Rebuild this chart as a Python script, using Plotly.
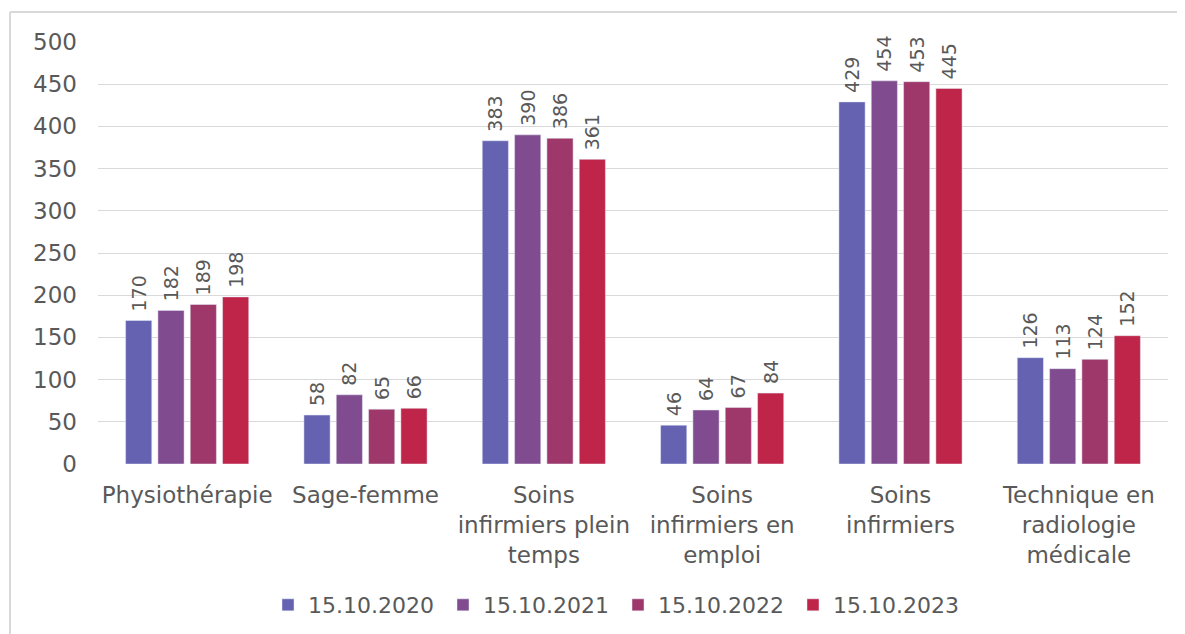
import plotly.graph_objects as go

categories = ["Physiothérapie", "Sage-femme", "Soins<br>infirmiers plein<br>temps",
              "Soins<br>infirmiers en<br>emploi", "Soins<br>infirmiers",
              "Technique en<br>radiologie<br>médicale"]
series_names = ["15.10.2020", "15.10.2021", "15.10.2022", "15.10.2023"]
v2020 = [170, 58, 383, 46, 429, 126]
v2021 = [182, 82, 390, 64, 454, 113]
v2022 = [189, 65, 386, 67, 453, 124]
v2023 = [198, 66, 361, 84, 445, 152]
values = [v2020, v2021, v2022, v2023]
colors = ["#6562B2", "#804C8F", "#9E386B", "#BE2549"]
y_ticks = [0, 50, 100, 150, 200, 250, 300, 350, 400, 450, 500]

FONT = "DejaVu Sans"
TXT = "#595959"

fig = go.Figure()
for name, vals, col in zip(series_names, values, colors):
    fig.add_trace(go.Bar(
        x=categories, y=vals, name=name, marker_color=col,
        text=["\u00a0" + str(v) for v in vals], textposition="outside", textangle=-90,
        constraintext="none", cliponaxis=False,
        textfont=dict(family=FONT, size=19, color=TXT),
    ))

# page body has an 8px margin; size the figure so the plot area lands where the reference has it
W, H = 1177, 626
fig.update_layout(
    width=W, height=H,
    margin=dict(l=90, r=17, t=34, b=170, autoexpand=False),
    paper_bgcolor="white", plot_bgcolor="white",
    barmode="group", bargap=0.275, bargroupgap=0.19,
    font=dict(family=FONT, size=23, color=TXT),
    legend=dict(orientation="h", xref="container", yref="container",
                x=260 / W, xanchor="left", y=29 / H, yanchor="middle",
                font=dict(family=FONT, size=22, color=TXT), itemwidth=30,
                entrywidth=130, entrywidthmode="pixels",
                traceorder="normal"),
    yaxis=dict(range=[0, 500], tickvals=y_ticks, showgrid=True, gridcolor="#D9D9D9",
               gridwidth=1, zeroline=False, showline=False, ticks="",
               ticklabelstandoff=20, tickfont=dict(size=23), automargin=False),
    xaxis=dict(showline=False, ticks="", tickfont=dict(size=23), tickangle=0,
               ticklabelstandoff=15, automargin=False),
    shapes=[
        dict(type="line", xref="paper", yref="paper",
             x0=(10 - 98) / 1070, x1=1.3, y0=(464 - 12) / 422, y1=(464 - 12) / 422,
             line=dict(color="#D9D9D9", width=2), layer="below"),
        dict(type="line", xref="paper", yref="paper",
             x0=(10 - 98) / 1070, x1=(10 - 98) / 1070, y0=-0.6, y1=(464 - 12) / 422,
             line=dict(color="#D9D9D9", width=2), layer="below"),
    ],
)

fig.write_html("out.html")
